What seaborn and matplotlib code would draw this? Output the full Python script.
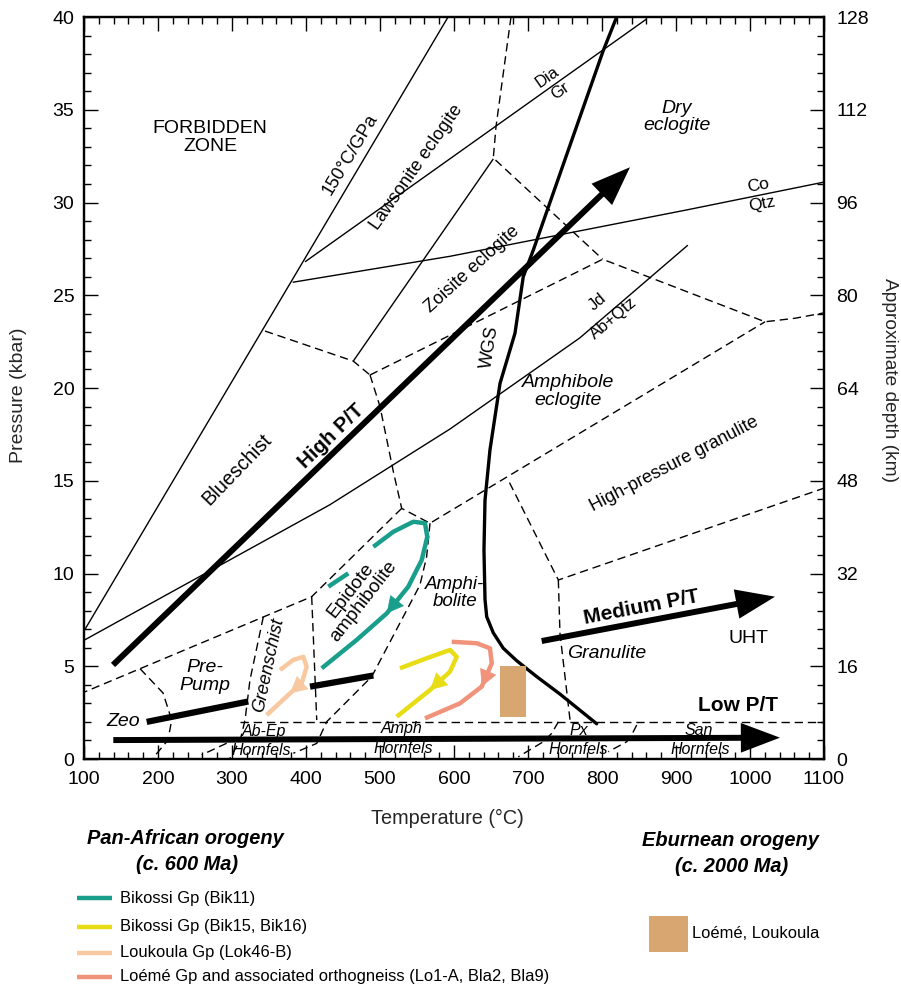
import matplotlib
matplotlib.use('Agg')
import matplotlib.pyplot as plt
import seaborn as sns
import pandas as pd
from matplotlib.ticker import MultipleLocator
from matplotlib.patches import Rectangle
from matplotlib.lines import Line2D
from matplotlib import font_manager as fm

# ------------------------------------------------------------------ data
T_ticks = [100, 200, 300, 400, 500, 600, 700, 800, 900, 1000, 1100]
P_ticks = [0, 5, 10, 15, 20, 25, 30, 35, 40]
depth_ticks = [0, 16, 32, 48, 64, 80, 96, 112, 128]

# thin solid reaction / facies lines  (T degC, P kbar)
iso_150 = [(100, 6.9), (592, 40.0)]
dia_gr = [(398.6, 26.8), (860.5, 39.9)]
coe_qtz = [(382, 25.7), (594.6, 27.1), (914.5, 29.6), (1100, 31.1)]
lws_zo = [(463.9, 21.45), (653.1, 32.35)]
jd_ab = [(100, 6.4), (432, 13.7), (595, 17.8), (770, 22.7), (916, 27.7)]

# dashed facies boundaries
d_bs_top = [(344.6, 23.07), (463.9, 21.45), (486.5, 20.7)]
d_ecl_low = [(486.5, 20.7), (800.9, 26.94), (1020.3, 23.57), (1060.8, 23.76), (1100, 24.05)]
d_dry = [(677, 40.0), (656.8, 34.1), (653.1, 32.4), (800.9, 26.94)]
d_bs_right = [(486.5, 20.7), (500, 19.0), (518, 15.5), (529.3, 13.51), (567.6, 12.71), (1020.3, 23.57)]
d_prepump_top = [(529.3, 13.51), (407.7, 8.75), (100, 3.6)]
d_gs_right = [(407.7, 8.75), (414.5, 2.1)]
d_amph_left = [(567.6, 12.71), (563, 10.9), (554, 9.38), (488.8, 4.44), (428, 2.01), (414.5, 0.84), (382.9, 0.31)]
d_gran_top = [(675, 14.9), (741, 9.65), (1100, 14.6)]
d_gran_left = [(741, 9.65), (743.2, 6.78), (756.8, 2.1)]
d_2kbar = [(311, 2.0), (1100, 2.0)]
d_gs_left = [(342.3, 7.66), (324.3, 4.26), (317.6, 2.1), (311, 1.0), (297.3, 0.05)]
d_zeo = [(175.7, 4.87), (206.8, 3.56), (218.5, 2.1), (213.5, 1.02), (193.2, 0.05)]
d_hf1 = [(292.8, 0.85), (259, 0.22)]
d_hf2 = [(741, 2.0), (732, 1.38), (720.7, 0.93), (686.9, 0.12)]
d_hf3 = [(846.9, 1.83), (840, 1.29), (833.4, 0.93), (808.5, 0.39)]

# wet granite solidus (WGS)
wgs = [(819.8, 40.0), (801.8, 38.2), (754.5, 32.83), (707.2, 27.44), (693.6, 26.0),
       (682.4, 22.95), (662.2, 20.25), (648.6, 16.66), (641.9, 13.96), (640.5, 11.27),
       (641.9, 8.6), (644.2, 7.67), (653.1, 6.8), (666.6, 5.97), (684.7, 5.3),
       (711.8, 4.44), (743.2, 3.5), (792.8, 1.9)]

# thick gradient arrows and bars
arrow_high = [(139.2, 5.07), (837.8, 31.9)]
arrow_med = [(718.5, 6.36), (1033.8, 8.75)]
arrow_low = [(139.6, 1.02), (1040.5, 1.15)]
bar_zeo = [(184.7, 2.0), (322, 3.1)]
bar_gs = [(405.4, 3.9), (491, 4.5)]

# P-T paths
bik11_T = [430.1, 457.2, 491.0, 518.0, 545.0, 560.8, 563.9, 556.4, 538.2, 509.1, 468.5, 421.2]
bik11_P = [9.29, 10.01, 11.44, 12.25, 12.79, 12.71, 11.98, 10.73, 9.29, 7.85, 6.42, 4.89]
bik15_T = [527.0, 563.1, 594.6, 603.6, 594.6, 567.6, 545.0, 522.6]
bik15_P = [4.89, 5.43, 5.88, 5.51, 4.71, 3.72, 3.0, 2.28]
lok46_T = [364.9, 382.8, 396.4, 400.9, 394.2, 378.4, 346.9]
lok46_P = [4.8, 5.34, 5.51, 4.98, 4.08, 3.54, 2.37]
loeme_T = [596.9, 630.7, 648.6, 651.0, 637.4, 608.1, 560.8]
loeme_P = [6.32, 6.24, 5.97, 5.16, 3.9, 3.0, 2.19]
ebur_T = [662, 697]
ebur_P = [2.25, 5.03]

legend_labels = ['Bikossi Gp (Bik11)', 'Bikossi Gp (Bik15, Bik16)', 'Loukoula Gp (Lok46-B)',
                 'Loémé Gp and associated orthogneiss (Lo1-A, Bla2, Bla9)']
ebur_label = 'Loémé, Loukoula'

# ------------------------------------------------------------------ style
sns.set_theme(style='ticks')
names = {f.name for f in fm.fontManager.ttflist}
BASE = 'Liberation Sans' if 'Liberation Sans' in names else 'DejaVu Sans'
plt.rcParams['font.family'] = [BASE, 'DejaVu Sans']
plt.rcParams['axes.edgecolor'] = 'black'
plt.rcParams['text.color'] = 'black'

C_TEAL = '#1a9e8c'
C_YEL = '#e8dc14'
C_PEACH = '#f8c9a0'
C_SALMON = '#f0937a'
C_BROWN = '#d8a670'

fig = plt.figure(figsize=(9.01, 9.85), dpi=100)
ax = fig.add_axes([84 / 901, 1 - 759 / 985, 740 / 901, 742 / 985])
ax.set_xlim(100, 1100)
ax.set_ylim(0, 40)


def xy(pts):
    return [p[0] for p in pts], [p[1] for p in pts]


thin = dict(color='black', lw=1.0, solid_capstyle='butt')
for line in [iso_150, dia_gr, coe_qtz, lws_zo, jd_ab]:
    ax.plot(*xy(line), **thin)

dash = dict(color='black', lw=1.0, ls=(0, (6, 3.5)))
for line in [d_bs_top, d_ecl_low, d_dry, d_bs_right, d_prepump_top, d_gs_right, d_amph_left,
             d_gran_top, d_gran_left, d_2kbar, d_gs_left, d_zeo, d_hf1, d_hf2, d_hf3]:
    ax.plot(*xy(line), **dash)

ax.plot(*xy(wgs), color='black', lw=2.4, solid_joinstyle='round')

for seg in [bar_zeo, bar_gs]:
    ax.plot(*xy(seg), color='black', lw=4.5, solid_capstyle='butt')

for arr in [arrow_high, arrow_med, arrow_low]:
    ax.annotate('', xy=arr[1], xytext=arr[0],
                arrowprops=dict(arrowstyle='-|>,head_length=0.95,head_width=0.36', lw=4.3,
                                color='black', mutation_scale=21, shrinkA=0, shrinkB=0,
                                joinstyle='miter', capstyle='butt'))

# Eburnean box
ax.add_patch(Rectangle((ebur_T[0], ebur_P[0]), ebur_T[1] - ebur_T[0], ebur_P[1] - ebur_P[0],
                       facecolor=C_BROWN, edgecolor='none', zorder=3))

# P-T paths via seaborn
paths = [(bik11_T, bik11_P, C_TEAL, 9), (bik15_T, bik15_P, C_YEL, 5),
         (lok46_T, lok46_P, C_PEACH, 5), (loeme_T, loeme_P, C_SALMON, 4)]
for Ts, Ps, col, ai in paths:
    if col == C_TEAL:
        parts = [pd.DataFrame({'T': Ts[:2], 'P': Ps[:2]}), pd.DataFrame({'T': Ts[2:], 'P': Ps[2:]})]
    else:
        parts = [pd.DataFrame({'T': Ts, 'P': Ps})]
    for d in parts:
        sns.lineplot(data=d, x='T', y='P', sort=False, estimator=None, color=col,
                     lw=3.2, ax=ax, zorder=4, solid_capstyle='butt')
    ax.annotate('', xy=(Ts[ai], Ps[ai]), xytext=(Ts[ai - 1], Ps[ai - 1]),
                arrowprops=dict(arrowstyle='-|>,head_length=0.8,head_width=0.42', lw=0.5,
                                color=col, mutation_scale=14, shrinkA=0, shrinkB=0), zorder=5)

# ------------------------------------------------------------------ labels in plot
labels = [
    ('FORBIDDEN\nZONE', 270.3, 33.5, 0, 'normal', 'normal', 14),
    ('150°C/GPa', 459.5, 32.6, 59, 'normal', 'normal', 13),
    ('Lawsonite eclogite', 550, 31.9, 55, 'normal', 'normal', 13),
    ('Zoisite eclogite', 625, 26.4, 42, 'normal', 'normal', 13),
    ('Dia', 726.4, 36.74, 35, 'normal', 'normal', 12),
    ('Gr', 743.2, 36.03, 35, 'normal', 'normal', 12),
    ('Co', 1010.8, 30.94, 11, 'normal', 'normal', 12.5),
    ('Qtz', 1016.2, 29.92, 11, 'normal', 'normal', 12.5),
    ('Jd', 794.6, 24.65, 40, 'normal', 'normal', 12),
    ('Ab+Qtz', 815.3, 23.76, 40, 'normal', 'normal', 12),
    ('Dry\neclogite', 901.4, 34.6, 0, 'italic', 'normal', 14),
    ('WGS', 648.6, 22.2, 81, 'normal', 'normal', 13),
    ('Amphibole\neclogite', 754.7, 19.8, 0, 'italic', 'normal', 14),
    ('High-pressure granulite', 897.3, 15.9, 27.5, 'normal', 'normal', 13),
    ('Blueschist', 306.3, 15.6, 46, 'normal', 'normal', 14.3),
    ('High P/T', 433.8, 17.4, 44, 'normal', 'bold', 14.8),
    ('Epidote\namphibolite', 469, 8.8, 52, 'normal', 'normal', 13.8),
    ('Amphi-\nbolite', 601.4, 8.95, 0, 'italic', 'normal', 13.5),
    ('Pre-\nPump', 263.5, 4.44, 0, 'italic', 'normal', 14),
    ('Greenschist', 350, 5.07, 78, 'italic', 'normal', 13),
    ('Zeo', 153.1, 2.01, 0, 'italic', 'normal', 14),
    ('Ab-Ep', 343.2, 1.47, 0, 'italic', 'normal', 11.5),
    ('Hornfels', 340.1, 0.45, 0, 'italic', 'normal', 11.5),
    ('Amph', 529.3, 1.65, 0, 'italic', 'normal', 11.5),
    ('Hornfels', 531.5, 0.58, 0, 'italic', 'normal', 11.5),
    ('Px', 768, 1.53, 0, 'italic', 'normal', 11.5),
    ('Hornfels', 768, 0.49, 0, 'italic', 'normal', 11.5),
    ('San', 930.1, 1.53, 0, 'italic', 'normal', 11.5),
    ('Hornfels', 932.4, 0.49, 0, 'italic', 'normal', 11.5),
    ('Granulite', 806.4, 5.7, 0, 'italic', 'normal', 14),
    ('Medium P/T', 853.6, 8.18, 11, 'normal', 'bold', 15),
    ('UHT', 997.7, 6.5, 0, 'normal', 'normal', 14),
    ('Low P/T', 984.2, 2.91, 0, 'normal', 'bold', 15),
]
for txt, tx, ty, rot, style, weight, size in labels:
    ax.text(tx, ty, txt, rotation=rot, rotation_mode='anchor', ha='center', va='center',
            fontstyle=style, fontweight=weight, fontsize=size, linespacing=1.05, zorder=6)

# ------------------------------------------------------------------ axes / ticks
ax.set_xticks(T_ticks)
ax.set_yticks(P_ticks)
ax.xaxis.set_minor_locator(MultipleLocator(20))
ax.yaxis.set_minor_locator(MultipleLocator(1))
ax.tick_params(which='both', direction='in', top=True, right=False, colors='black',
               labelsize=14, width=1.0)
ax.tick_params(which='major', length=10)
ax.tick_params(which='minor', length=5)
ax.tick_params(axis='x', pad=9)
ax.tick_params(axis='y', pad=7)
for s in ax.spines.values():
    s.set_linewidth(1.6)
    s.set_color('black')

ax2 = ax.twinx()
ax2.set_ylim(0, 128)
ax2.set_yticks(depth_ticks)
ax2.yaxis.set_minor_locator(MultipleLocator(3.2))
ax2.tick_params(which='both', direction='in', colors='black', labelsize=14, width=1.0, pad=9)
ax2.tick_params(which='major', length=10)
ax2.tick_params(which='minor', length=5)
for s in ax2.spines.values():
    s.set_linewidth(1.6)
    s.set_color('black')
ax2.grid(False)
ax.grid(False)

ax.set_xlabel('Temperature (°C)', fontsize=14.3, va='center')
ax.set_ylabel('Pressure (kbar)', fontsize=14, va='center', ha='center')
ax2.set_ylabel('Approximate depth (km)', fontsize=13.8, rotation=270, va='center', ha='center')
ax.xaxis.set_label_coords((447 - 84) / 740, (759 - 818) / 742)
ax.yaxis.set_label_coords((19 - 84) / 740, (759 - 395) / 742)
ax2.yaxis.set_label_coords((889 - 84) / 740, (759 - 380) / 742)

# ------------------------------------------------------------------ legend area (figure coords)
def F(px, py):
    return px / 901, 1 - py / 985


lfam, lsize, hsize = [BASE, 'DejaVu Sans'], 11.9, 14.4

fig.text(*F(185, 838), 'Pan-African orogeny', ha='center', va='center', fontsize=hsize,
         fontweight='bold', fontstyle='italic', family=lfam)
fig.text(*F(187, 865), '(c. 600 Ma)', ha='center', va='center', fontsize=hsize,
         fontweight='bold', fontstyle='italic', family=lfam)
fig.text(*F(730, 840), 'Eburnean orogeny', ha='center', va='center', fontsize=hsize,
         fontweight='bold', fontstyle='italic', family=lfam)
fig.text(*F(732, 866), '(c. 2000 Ma)', ha='center', va='center', fontsize=hsize,
         fontweight='bold', fontstyle='italic', family=lfam)

for col, lab, py in zip([C_TEAL, C_YEL, C_PEACH, C_SALMON], legend_labels, [898, 927, 953, 977]):
    x0, y0 = F(77, py)
    x1, _ = F(112, py)
    fig.add_artist(Line2D([x0, x1], [y0, y0], color=col, lw=3.2, solid_capstyle='butt'))
    fig.text(*F(120, py), lab, ha='left', va='center', fontsize=lsize, family=lfam)

bx, by = F(649, 952)
fig.add_artist(Rectangle((bx, by), 39 / 901, 36 / 985, facecolor=C_BROWN, edgecolor='none',
                         transform=fig.transFigure))
fig.text(*F(692, 934), ebur_label, ha='left', va='center', fontsize=lsize, family=lfam)

fig.savefig('out.png', dpi=100, facecolor='white')
